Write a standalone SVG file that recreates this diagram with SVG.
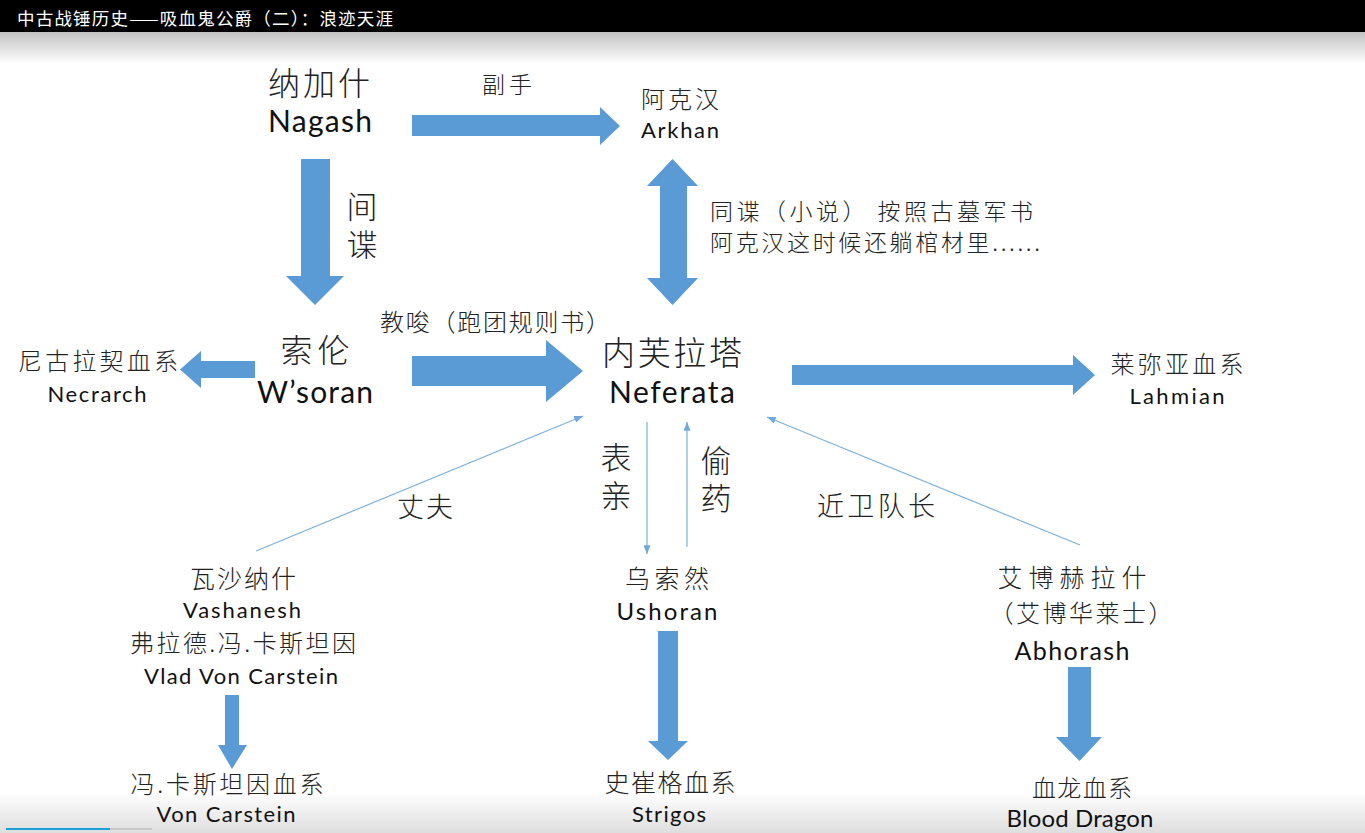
<svg xmlns="http://www.w3.org/2000/svg" width="1365" height="833" viewBox="0 0 1365 833">
<defs>
<linearGradient id="topg" x1="0" y1="0" x2="0" y2="1"><stop offset="0" stop-color="#c2c2c2"/><stop offset="1" stop-color="#ffffff"/></linearGradient>
<linearGradient id="botg" x1="0" y1="0" x2="0" y2="1"><stop offset="0" stop-color="#ffffff"/><stop offset="1" stop-color="#dedede"/></linearGradient>
<marker id="ah" viewBox="0 0 10 8" markerWidth="9" markerHeight="7" refX="10" refY="4" orient="auto" markerUnits="userSpaceOnUse"><path d="M0,0 L10,4 L0,8 z" fill="#6fa8dc"/></marker>
<style>
.blk{fill:#5b9bd5}
.thin{fill:none;stroke:#7eb1de;stroke-width:1.2}
.cn{font-family:"Noto Sans CJK SC",sans-serif;fill:#222;font-weight:300}
.en{font-family:Lato,"Liberation Sans",sans-serif;fill:#111}
.m{text-anchor:middle}
.v{writing-mode:vertical-rl;font-size:31px;letter-spacing:7px}
</style>
</defs>
<rect x="0" y="0" width="1365" height="833" fill="#ffffff"/>
<rect x="0" y="32" width="1365" height="32" fill="url(#topg)"/>
<rect x="0" y="792" width="1365" height="41" fill="url(#botg)"/>
<rect x="0" y="0" width="1365" height="32" fill="#000000"/>
<text x="17" y="25" font-family="'Noto Sans CJK SC',sans-serif" font-size="17.5" fill="#ffffff" textLength="376">中古战锤历史——吸血鬼公爵（二）：浪迹天涯</text>
<rect x="6" y="828" width="104" height="2" fill="#1a9fd8"/>
<rect x="110" y="828" width="42" height="2" fill="#c8c8c8"/>

<g id="connectors">
<path class="blk" d="M412,115 H600 V107 L620,126 L600,145 V136 H412 Z"/>
<path class="blk" d="M301,159 H330 V276 H344 L315,305 L286,276 H301 Z"/>
<path class="blk" d="M672.5,159 L698,186 H687 V278 H698 L672.5,305 L647,278 H660 V186 H647 Z"/>
<path class="blk" d="M255,361 V378 H201 V388 L180,369.5 L201,351 V361 Z"/>
<path class="blk" d="M412,356 H546 V340 L583,371 L546,402 V386 H412 Z"/>
<path class="blk" d="M792,365 H1073 V355 L1095,375 L1073,395 V385 H792 Z"/>
<path class="blk" d="M225,695 H239 V745 H247 L232,769 L218,745 H225 Z"/>
<path class="blk" d="M658,631 H678 V741 H688 L668,760 L648,741 H658 Z"/>
<path class="blk" d="M1068,667 H1091 V737 H1102 L1079.5,761 L1056,737 H1068 Z"/>
<path class="thin" d="M256,551 L583,416" marker-end="url(#ah)"/>
<path class="thin" d="M647,422 L647,554" marker-end="url(#ah)"/>
<path class="thin" d="M687,547 L687,422" marker-end="url(#ah)"/>
<path class="thin" d="M1080,545 L767,417" marker-end="url(#ah)"/>
<text class="cn m" x="507" y="93" font-size="23" textLength="50">副手</text>
<text class="cn v" x="362" y="191">间谍</text>
<text class="cn" x="710" y="220" font-size="23" textLength="323">同谍（小说） 按照古墓军书</text>
<text class="cn" x="710" y="251" font-size="23" textLength="330">阿克汉这时候还躺棺材里......</text>
<text class="cn" x="380" y="331" font-size="24" textLength="230">教唆（跑团规则书）</text>
<text class="cn m" x="425" y="517" font-size="27" textLength="56">丈夫</text>
<text class="cn v" x="616" y="442">表亲</text>
<text class="cn v" x="716" y="445">偷药</text>
<text class="cn m" x="876" y="516" font-size="27" textLength="118">近卫队长</text>
</g>

<g id="nagash">
<text class="cn m" x="319" y="95" font-size="32" textLength="102">纳加什</text>
<text class="en m" x="320" y="132" font-size="30" textLength="104">Nagash</text>
</g>
<g id="arkhan">
<text class="cn m" x="680" y="108" font-size="24" textLength="78">阿克汉</text>
<text class="en m" x="680" y="138" font-size="22" textLength="78">Arkhan</text>
</g>
<g id="wsoran">
<text class="cn m" x="315" y="362" font-size="32" textLength="69">索伦</text>
<text class="en m" x="315" y="403" font-size="30" textLength="116">W’soran</text>
</g>
<g id="necrarch">
<text class="cn m" x="98" y="370" font-size="24" textLength="160">尼古拉契血系</text>
<text class="en m" x="97" y="402" font-size="22" textLength="99">Necrarch</text>
</g>
<g id="neferata">
<text class="cn m" x="672" y="365" font-size="33" textLength="140">内芙拉塔</text>
<text class="en m" x="672" y="403" font-size="30" textLength="126">Neferata</text>
</g>
<g id="lahmian">
<text class="cn m" x="1177" y="373" font-size="24" textLength="133">莱弥亚血系</text>
<text class="en m" x="1177" y="404" font-size="22" textLength="95">Lahmian</text>
</g>
<g id="vashanesh">
<text class="cn m" x="243" y="588" font-size="25" textLength="106">瓦沙纳什</text>
<text class="en m" x="242" y="618" font-size="22" textLength="118">Vashanesh</text>
<text class="cn m" x="243" y="652" font-size="24" textLength="226">弗拉德.冯.卡斯坦因</text>
<text class="en m" x="241" y="684" font-size="22" textLength="194">Vlad Von Carstein</text>
</g>
<g id="voncarstein">
<text class="cn m" x="227" y="793" font-size="24" textLength="193">冯.卡斯坦因血系</text>
<text class="en m" x="226" y="822" font-size="22" textLength="139">Von Carstein</text>
</g>
<g id="ushoran">
<text class="cn m" x="667" y="588" font-size="25" textLength="84">乌索然</text>
<text class="en m" x="667" y="620" font-size="24" textLength="101">Ushoran</text>
</g>
<g id="strigos">
<text class="cn m" x="670" y="792" font-size="25" textLength="131">史崔格血系</text>
<text class="en m" x="669" y="822" font-size="22" textLength="74">Strigos</text>
</g>
<g id="abhorash">
<text class="cn m" x="1072" y="587" font-size="25" textLength="149">艾博赫拉什</text>
<text class="cn m" x="1081" y="622" font-size="24" textLength="183">（艾博华莱士）</text>
<text class="en m" x="1072" y="660" font-size="25" textLength="115">Abhorash</text>
</g>
<g id="blooddragon">
<text class="cn m" x="1082" y="797" font-size="24" textLength="100">血龙血系</text>
<text class="en m" x="1080" y="827" font-size="24" textLength="147">Blood Dragon</text>
</g>
</svg>
